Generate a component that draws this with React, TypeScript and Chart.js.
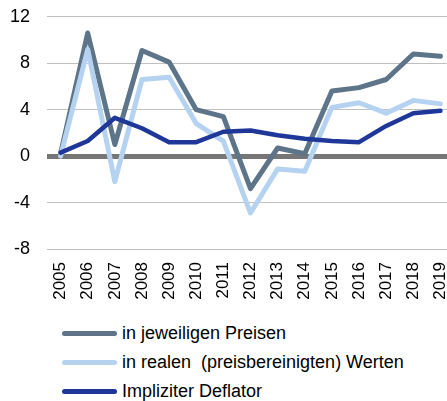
import React, { useEffect, useRef } from "react";
import { Chart, registerables } from "chart.js";

Chart.register(...registerables);

const years = ["2005","2006","2007","2008","2009","2010","2011","2012","2013","2014","2015","2016","2017","2018","2019"];
const nominal = [0.2, 10.6, 1.0, 9.1, 8.1, 4.0, 3.4, -2.8, 0.7, 0.2, 5.6, 5.9, 6.6, 8.8, 8.6];
const real = [0.0, 9.2, -2.2, 6.6, 6.8, 2.8, 1.3, -4.9, -1.1, -1.3, 4.2, 4.6, 3.7, 4.8, 4.5];
const deflator = [0.3, 1.3, 3.3, 2.4, 1.2, 1.2, 2.1, 2.2, 1.8, 1.5, 1.3, 1.2, 2.6, 3.7, 3.9];
const seriesLabels = ["in jeweiligen Preisen", "in realen  (preisbereinigten) Werten", "Impliziter Deflator"];
const seriesColors = ["#5D7489", "#B5D3F1", "#1F3798"];
const yTicks = [-8, -4, 0, 4, 8, 12];

const FONT = "'Liberation Sans', Arial, sans-serif";

export default function App() {
  const ref = useRef<HTMLCanvasElement | null>(null);
  useEffect(() => {
    document.body.style.margin = "0";
    const ctx = ref.current!.getContext("2d")!;
    const chart = new Chart(ctx, {
      type: "line",
      data: {
        labels: years,
        datasets: [
          { label: seriesLabels[0], data: nominal, borderColor: seriesColors[0], backgroundColor: seriesColors[0], borderWidth: 5, pointRadius: 0, tension: 0, order: 3, borderJoinStyle: "round", borderCapStyle: "round" },
          { label: seriesLabels[1], data: real, borderColor: seriesColors[1], backgroundColor: seriesColors[1], borderWidth: 5, pointRadius: 0, tension: 0, order: 2, borderJoinStyle: "round", borderCapStyle: "round" },
          { label: seriesLabels[2], data: deflator, borderColor: seriesColors[2], backgroundColor: seriesColors[2], borderWidth: 4.5, pointRadius: 0, tension: 0, order: 1, borderJoinStyle: "round", borderCapStyle: "round" },
        ],
      },
      options: {
        animation: false,
        responsive: false,
        layout: { padding: { top: 4, right: 0, left: 0, bottom: 0 } },
        plugins: { legend: { display: false }, tooltip: { enabled: false } },
        scales: {
          x: {
            offset: true,
            grid: { display: false, drawTicks: false },
            border: { display: false },
            ticks: { minRotation: 90, maxRotation: 90, padding: 13, color: "#000", font: { family: FONT, size: 17 } },
            afterFit: (s: any) => { s.height = 56; s.paddingLeft = 0; s.paddingRight = 0; },
          },
          y: {
            min: -8,
            max: 12,
            afterBuildTicks: (s: any) => { s.ticks = yTicks.map((v) => ({ value: v })); },
            grid: {
              drawTicks: false,
              color: (c: any) => (c.tick && c.tick.value === 0 ? "#767676" : "#C0C0C0"),
              lineWidth: (c: any) => (c.tick && c.tick.value === 0 ? 5 : 1),
            },
            border: { display: false },
            ticks: { padding: 17, color: "#000", font: { family: FONT, size: 18 } },
            afterFit: (s: any) => { s.width = 47; },
          },
        },
      },
    });
    return () => chart.destroy();
  }, []);

  return (
    <div style={{ position: "absolute", left: 0, top: 0, width: 447, height: 401, background: "#fff", fontFamily: FONT, overflow: "hidden" }}>
      <canvas ref={ref} width={454} height={316} style={{ display: "block", width: 454, height: 316, marginTop: -11 }} />
      <div style={{ marginTop: 14, paddingLeft: 62 }}>
        {seriesLabels.map((l, i) => (
          <div key={l} style={{ display: "flex", alignItems: "center", height: 29 }}>
            <span style={{ display: "inline-block", width: 55, height: 5, borderRadius: 3, background: seriesColors[i], marginRight: 5 }} />
            <span style={{ fontSize: 18, color: "#000", whiteSpace: "pre" }}>{l}</span>
          </div>
        ))}
      </div>
    </div>
  );
}
